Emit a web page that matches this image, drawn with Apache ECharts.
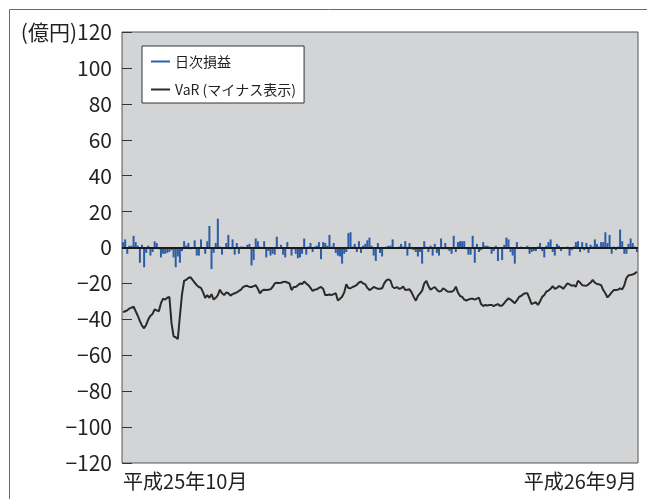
<!DOCTYPE html>
<html><head><meta charset="utf-8">
<script src="https://cdn.jsdelivr.net/npm/echarts@6/dist/echarts.min.js"></script>
<style>html,body{margin:0;padding:0;background:#fff}#c{width:647px;height:499px}</style>
</head><body><div id="c"></div>
<script>
// 日次損益 (億円), one value per business day, 平成25年10月 – 平成26年9月
const pnl1 = [3,4.5,-3.5,1,1,6.5,3,1,-8.5,1.5,-11,-3,1,-4.5,-2.5,3.5,2.5,-1,-5.5,-3.5,-3.5,-3,-2.5,-1.5,-5.5,-11,-5,-8.5,-2,3.5,1,2.5,-1,-0.5,4,-4.5,-4.5,4.5,-0.5,-3.5,3.5];
const pnl2 = [12,-12,-3,2.5,16,0.5,-4,-0.5,2.5,7,-1,4.5,-4,2.5,-3.5,0.5,0.5,-0.5,1.5,2,-10,-7,5,3.5,0.5,-0.5,3.5,-5.5,-2,-4.5,-3.5,-4,6,-0.5,1.5,-4,-5.5,3,-0.5,-4.5,-1];
const pnl3 = [-3.5,-6,-5.5,-3.5,5,-4,0.5,2.5,-2.5,0.5,1,3,-6.5,3,2.5,1,7,0.5,2.5,-3,-4.5,-5,-9,-3.5,-2.5,8,8.5,0.5,2,-2.5,3.5,-3,1,2,4,5.5,1,-4.5,-7.5,2.5,-3];
const pnl4 = [-5,0,0.5,1,1,4.5,0,0,0.5,2,0.5,3.5,-4.5,2.5,-1,-1.5,-2.5,-5,-2.5,-9,3.5,0.5,-2.5,1,-4.5,2,-3,-4.5,5,-1,2.5,-1,-2,-3.5,6.5,-2.5,3,3.5,3.5,3.5,-1];
const pnl5 = [-4,-4,6.5,-8.5,2,-2.5,-1.5,3,1,1,0.5,-3.5,-2,1,-7.5,0,-7,1.5,5.5,4.5,-2.5,-4.5,-9,3,0,0.5,0,-0.5,1,-3.5,-2.5,-2,-2,0.5,2.5,-2,-5.5,1,3,4.5,-2.5];
const pnl6 = [-4.5,2,1,-2,0,0,0.5,-4.5,-1.5,0.5,3,3.5,-2.5,3,-1.5,2.5,-3,1.5,0.5,4.5,2,0.5,3,3,8.5,2.5,7,-3.5,0.5,-1.5,0.5,10,3.5,-3.5,-3.5,2,5,2.5,0.5,-2.5];

// VaR (マイナス表示) (億円)
const var1 = [-36,-35.5,-35,-34,-33.5,-33,-35.5,-38,-41,-43.5,-45,-43,-40,-38,-37,-34.5,-35,-35.5,-31,-28.5,-29,-28,-27.5,-42,-49.5,-50,-51,-38,-26,-18.5,-18,-17,-16.5,-18,-19.5,-21,-22,-22.5,-25,-28,-26.5];
const var2 = [-28,-26,-29,-28,-26.5,-23.5,-25.5,-26.5,-25,-25.5,-26.8,-26,-25.5,-25,-24.2,-23.5,-22,-21.5,-21.3,-22,-22,-21.5,-21,-23,-25.5,-24,-23.5,-23.7,-23.5,-23.3,-22,-20,-19.6,-19.8,-19.6,-19.2,-19,-19.5,-20,-23.7,-22];
const var3 = [-22,-21,-20,-20.3,-19,-20,-21,-22.5,-24.2,-23.5,-23.3,-22.5,-22,-23,-26.5,-26.5,-26.2,-26.5,-26,-25.5,-29.5,-28.5,-27.4,-25,-20.5,-22.5,-22.7,-22,-21.5,-20.8,-19.5,-19,-20,-20.5,-22.5,-23.7,-23,-22,-22.5,-23,-23];
const var4 = [-22.7,-20,-18.3,-17.7,-18.5,-22,-22.7,-22,-23,-22.7,-21.8,-23.7,-23.5,-23.3,-25,-27.5,-29.6,-27,-25.5,-24,-20,-18.6,-21.5,-23.5,-22.7,-22,-23.5,-24.5,-24.3,-22.7,-23.5,-24.5,-24.6,-24.6,-24,-21.8,-25,-27,-27.5,-29,-29.5];
const var5 = [-29,-28.5,-28.5,-29,-28.5,-28,-31.5,-32.6,-32,-32.3,-32,-32,-32.6,-32,-31.5,-32.5,-32.3,-31,-29.5,-28.3,-29,-30,-31,-29.5,-27.5,-27,-26,-25.5,-25.5,-28.5,-31.5,-31,-30.5,-32,-30,-27.5,-26.5,-24.5,-24,-23,-21.5];
const var6 = [-23,-22.5,-21.5,-22,-23,-21.5,-20,-20.5,-21.3,-21,-21.8,-18.5,-19.5,-21,-21.2,-21.3,-20.5,-19.5,-18.1,-19.5,-20.3,-20.5,-21,-23.7,-25.5,-27.8,-26.5,-25,-23.7,-23.7,-23.5,-22.8,-23.3,-21,-17,-15.5,-15.3,-15,-14.5,-13.5];

const xTickLabels = ['平成25年10月', '平成26年9月'];
const seriesNames = ['日次損益', 'VaR (マイナス表示)'];
const yUnit = '(億円)';

const pnl = [].concat(pnl1, pnl2, pnl3, pnl4, pnl5, pnl6);
const varLine = [].concat(var1, var2, var3, var4, var5, var6);
const days = pnl.map((_, i) => String(i));
const lastIdx = days.length - 1;

const FONT = '"Noto Sans CJK JP", "Noto Sans", sans-serif';
const chart = echarts.init(document.getElementById('c'), null, {renderer: 'canvas'});
chart.setOption({
  animation: false,
  textStyle: {fontFamily: FONT},
  graphic: [{
    type: 'rect', silent: true, z: -10,
    shape: {x: 9.5, y: 9.5, width: 700, height: 600},
    style: {fill: 'none', stroke: '#6a6a6a', lineWidth: 1}
  }],
  grid: {left: 122, top: 32, width: 516, height: 431, show: true,
         backgroundColor: '#d3d4d6', borderColor: '#555', borderWidth: 1},
  legend: {
    left: 142, top: 46, orient: 'vertical',
    backgroundColor: '#fff', borderColor: '#333', borderWidth: 1,
    padding: [8, 8, 6, 9], itemGap: 13, itemWidth: 19, itemHeight: 2,
    textStyle: {fontSize: 14, color: '#222', fontFamily: FONT, lineHeight: 15},
    data: [{name: seriesNames[0], icon: 'rect'}, {name: seriesNames[1], icon: 'rect'}]
  },
  xAxis: {
    type: 'category', data: days, boundaryGap: true,
    axisLine: {show: false, onZero: false}, axisTick: {show: false},
    axisLabel: {
      interval: (i) => i === 0 || i === lastIdx,
      formatter: (v, i) => (i === 0 ? xTickLabels[0] : xTickLabels[1]),
      alignMinLabel: 'left', alignMaxLabel: 'right',
      fontSize: 20, color: '#222', margin: 8, fontFamily: FONT
    },
    splitLine: {show: false}
  },
  yAxis: {
    type: 'value', min: -120, max: 120, interval: 20,
    axisLine: {show: false},
    axisTick: {show: true, inside: true, length: 10, lineStyle: {color: '#333'}},
    splitLine: {show: false},
    axisLabel: {
      fontSize: 21, color: '#222', margin: 10, fontFamily: FONT,
      formatter: (v) => v === 120 ? yUnit + '120' : (v < 0 ? '\u2212' + Math.abs(v) : String(v))
    }
  },
  series: [{
    name: seriesNames[0], type: 'bar', data: pnl, barCategoryGap: '5%',
    itemStyle: {color: '#2b5ca8'},
    markLine: {
      silent: true, symbol: ['none', 'none'], label: {show: false},
      lineStyle: {color: '#1a1a1a', width: 2, type: 'solid'},
      data: [{yAxis: 0}]
    }
  }, {
    name: seriesNames[1], type: 'line', data: varLine, symbol: 'none',
    lineStyle: {color: '#2a2a2a', width: 2}, itemStyle: {color: '#2a2a2a'}, z: 3
  }]
});
</script></body></html>
